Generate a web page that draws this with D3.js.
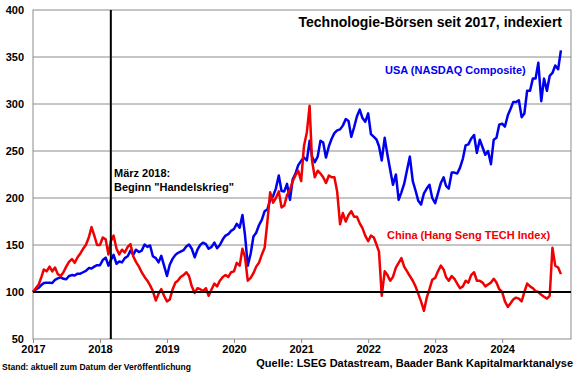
<!DOCTYPE html>
<html>
<head>
<meta charset="utf-8">
<script src="https://cdn.jsdelivr.net/npm/d3@7"></script>
<style>
  body { margin: 0; background: #fff; }
  svg { display: block; font-family: "Liberation Sans", Arial, sans-serif; font-weight: bold; }
  .axis text { font-size: 11px; font-weight: bold; fill: #000; }
  .grid { stroke: #8c8c8c; stroke-width: 1; }
</style>
</head>
<body>
<svg id="chart" width="580" height="375"></svg>
<script>
// semi-monthly values (1st and 16th of each month), indexed, start 2017 = 100
const nasdaq = [
  // 2017
  100,102.5,104.5,107.5,109.5,109.8,109.8,109.5,113,114.5,115.5,114,113.5,117,118,117.5,119.5,119.5,121,122.5,125.5,125,127,128.5,
  // 2018
  128.5,134,136.5,128,134,139.5,130,132.5,131.5,136,138,144,139.5,145,142.5,144,150.5,148,149.5,138,136,131.5,138.5,128,
  // 2019
  117,129,135.5,139.5,141.5,143,144.5,148.5,150.5,146,137,145,150,152.5,151,146,148,152.5,146.5,150,156,160,161.5,165,
  // 2020
  167,172.5,168.5,182,160.5,128,141,159,163,171,177,186,188,198,202,210,224,207.5,207,215,198,220,226,235,
  // 2021
  239.5,243,240,261,244,238,244,261,259,243,255,263,269,272,273,277,284,282,265,275,287,294,285,281,
  // 2022
  290,268,265,262,255,240,264,246,230,214,225,198,206,215,230,244,218,208,197,193,205,210,214,200,
  // 2023
  194.5,205,216,222,213,210,227,227,226,232,242,256,257,263,267,248,262,254,246,250,236,262,264,278,
  // 2024
  279,276,288,295,302,302,304,286,290,314,314,327,327,344,303,327,314,330,333,341,337,357
];
const hstech = [
  // 2017
  100,104,108,116,124,122,127,122,126,119,117,121,127,132,135,131,137,141,146,150,158,169,160,150,
  // 2018
  150,158,156,140,154,160,146,140,145,142,148,151,138,132,127,121,116,112,107,101,91,98,103,96,
  // 2019
  90,92,103,110,112,116,118,121,117,106,99,104,103,101,104,96,103,109,106,112,116,118,116,121,
  // 2020
  122,131,128,146,137,112,115,120,127,131,140,147,175,206,195,200,207,190,192,203,209,218,224,229,
  // 2021
  218,255,270,298,240,222,229,226,222,216,224,222,222,207,172,184,175,182,186,180,180,173,168,160,
  // 2022
  154,160,158,150,143,96,122,118,112,116,126,131,136,127,122,117,112,106,98,90,80,94,103,113,
  // 2023
  115,122,128,124,116,112,117,114,109,104,106,112,110,118,121,112,112,110,106,108,110,114,110,103,
  // 2024
  100,90,84,88,92,94,93,90,100,109,106,104,101,100,97,95,93,96,147,128,126,119
];
const yTicks = [50,100,150,200,250,300,350,400];
const xYears = [2017,2018,2019,2020,2021,2022,2023,2024];
const tradeWarDate = new Date(2018,2,1);

// dates: 1st and 16th of every month from Jan 2017
const dates = [];
for (let i = 0; i < nasdaq.length; i++) {
  const m = Math.floor(i/2);
  dates.push(new Date(2017 + Math.floor(m/12), m % 12, i % 2 ? 16 : 1));
}

const svg = d3.select("#chart");
const plotL = 33, plotR = 571, plotT = 10, plotB = 339;

const x = d3.scaleTime().domain([new Date(2017,0,1), new Date(2025,0,10)]).range([plotL, plotR]);
const y = d3.scaleLinear().domain([50,400]).range([plotB, plotT]);

// grid
svg.append("g").selectAll("line")
  .data(yTicks.filter(d => d > 50 && d < 400 && d !== 100))
  .enter().append("line").attr("class","grid")
  .attr("x1", plotL).attr("x2", plotR)
  .attr("y1", d => y(d)).attr("y2", d => y(d));

// frame
svg.append("rect").attr("x", plotL).attr("y", plotT)
  .attr("width", plotR-plotL).attr("height", plotB-plotT)
  .attr("fill","none").attr("stroke","#8c8c8c").attr("stroke-width",1);

// axes
let y_axis = d3.axisLeft(y).tickValues(yTicks).tickSize(0).tickPadding(9);
svg.append("g").attr("class","axis")
  .attr("transform", `translate(${plotL},0)`)
  .call(y_axis)
  .call(g => g.select(".domain").remove());

let x_axis = d3.axisBottom(x)
  .tickValues(xYears.map(v => new Date(v,0,1)))
  .tickFormat(d3.timeFormat("%Y"))
  .tickSize(4).tickPadding(2);
svg.append("g").attr("class","axis")
  .attr("transform", `translate(0,${plotB})`)
  .call(x_axis)
  .call(g => g.select(".domain").remove())
  .call(g => g.selectAll(".tick line").attr("stroke","#8c8c8c"));

// lines
const line = d3.line().x((d,i) => x(dates[i])).y(d => y(d));
svg.append("path").datum(nasdaq)
  .attr("fill","none").attr("stroke","#0000f0").attr("stroke-width",2.5)
  .attr("stroke-linejoin","round").attr("d", line);
svg.append("path").datum(hstech)
  .attr("fill","none").attr("stroke","#f00000").attr("stroke-width",2.5)
  .attr("stroke-linejoin","round").attr("d", line);

// base 100 line and trade war marker
svg.append("line").attr("x1", plotL).attr("x2", plotR)
  .attr("y1", y(100)).attr("y2", y(100))
  .attr("stroke","#000").attr("stroke-width",2);
svg.append("line").attr("x1", x(tradeWarDate)).attr("x2", x(tradeWarDate))
  .attr("y1", plotT).attr("y2", plotB)
  .attr("stroke","#000").attr("stroke-width",2);

// texts
svg.append("text").attr("x", 562).attr("y", 27)
  .attr("text-anchor","end").attr("font-size","14px").attr("fill","#000")
  .text("Technologie-Börsen seit 2017, indexiert");
svg.append("text").attr("x", 385).attr("y", 74)
  .attr("font-size","11px").attr("fill","#0000f0")
  .text("USA (NASDAQ Composite)");
svg.append("text").attr("x", 387).attr("y", 239)
  .attr("font-size","11px").attr("fill","#f00000")
  .text("China (Hang Seng TECH Index)");
const note = svg.append("text").attr("font-size","11px").attr("fill","#000");
note.append("tspan").attr("x", 114).attr("y", 177).text("März 2018:");
note.append("tspan").attr("x", 114).attr("y", 191).text("Beginn \"Handelskrieg\"");
svg.append("text").attr("x", 2).attr("y", 370)
  .attr("font-size","8.5px").attr("fill","#000")
  .text("Stand: aktuell zum Datum der Veröffentlichung");
svg.append("text").attr("x", 573).attr("y", 367)
  .attr("text-anchor","end").attr("font-size","11px").attr("fill","#000")
  .text("Quelle: LSEG Datastream, Baader Bank Kapitalmarktanalyse");
</script>
</body>
</html>
